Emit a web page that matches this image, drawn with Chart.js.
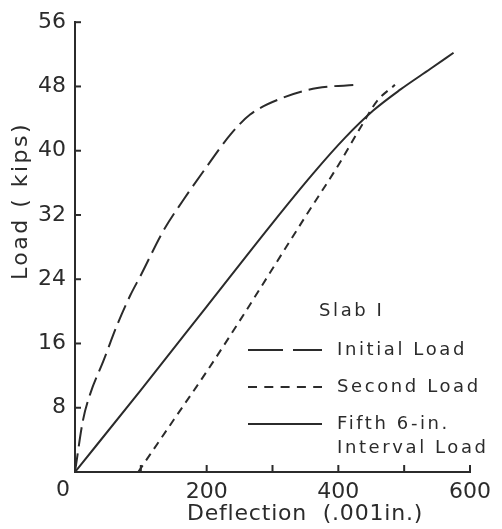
<!DOCTYPE html>
<html>
<head>
<meta charset="utf-8">
<script src="https://cdn.jsdelivr.net/npm/chart.js@4.4.0/dist/chart.umd.min.js"></script>
<style>
  html, body { margin: 0; padding: 0; background: #fff; }
  #wrap { width: 502px; height: 529px; position: relative; }
</style>
</head>
<body>
<div id="wrap"><canvas id="load-chart"></canvas></div>
<script>
// deflection (.001 in.) and load (kips)
const initialX = [0, 12, 23, 43, 64, 84, 100, 134, 164, 200, 236, 266, 316, 368, 428];
const initialY = [0, 6.4, 9.7, 13.8, 18.3, 22, 24.5, 30, 33.8, 38, 42, 44.5, 46.6, 47.8, 48.2];

const secondX = [96, 150, 200, 250, 300, 350, 400, 433, 459, 486];
const secondY = [0, 6.5, 12.5, 18.8, 25.3, 31.8, 38.2, 42.8, 46.2, 48.2];

const fifthX = [0, 100, 200, 300, 360, 410, 453, 494, 540, 575];
const fifthY = [0, 10.2, 20.6, 31.0, 37.0, 41.6, 45.0, 47.6, 50.2, 52.2];

const xTicks = [0, 100, 200, 300, 400, 500, 600];
const xTickLabels = [0, 200, 400, 600];
const yTicks = [0, 8, 16, 24, 32, 40, 48, 56];
const yTickLabels = [8, 16, 24, 32, 40, 48, 56];

const ink = '#2b2b2b';
const font = 'DejaVu Sans';

const toPoints = (xs, ys) => xs.map((x, i) => ({ x: x, y: ys[i] }));

// tick marks point into the plot, titles and the legend are drawn by hand
const extras = {
  id: 'extras',
  afterDraw(chart) {
    const ctx = chart.ctx;
    const xs = chart.scales.x;
    const ys = chart.scales.y;
    const area = chart.chartArea;
    ctx.save();
    ctx.strokeStyle = ink;
    ctx.lineWidth = 2;
    xTicks.forEach((v) => {
      if (v === 0) return;
      const px = xs.getPixelForValue(v);
      ctx.beginPath();
      ctx.moveTo(px, area.bottom);
      ctx.lineTo(px, area.bottom - 7);
      ctx.stroke();
    });
    yTicks.forEach((v) => {
      if (v === 0) return;
      const py = ys.getPixelForValue(v);
      ctx.beginPath();
      ctx.moveTo(area.left, py);
      ctx.lineTo(area.left + 6, py);
      ctx.stroke();
    });

    ctx.fillStyle = ink;
    ctx.font = '22px "' + font + '"';
    ctx.textBaseline = 'middle';
    ctx.textAlign = 'center';
    // the origin label sits left of the corner in the original
    ctx.fillText('0', xs.getPixelForValue(0) - 12, area.bottom + 18);

    ctx.letterSpacing = '0.8px';
    ctx.textAlign = 'left';
    ctx.fillText('Deflection  (.001in.)', 187, 514);

    ctx.save();
    ctx.translate(21, 201);
    ctx.rotate(-Math.PI / 2);
    ctx.textAlign = 'center';
    ctx.letterSpacing = '2.5px';
    ctx.fillText('Load ( kips)', 0, 0);
    ctx.restore();

    // legend
    ctx.font = '18px "' + font + '"';
    ctx.letterSpacing = '2.6px';
    ctx.fillText('Slab I', 319, 311);
    const rows = [350, 387, 424];
    chart.data.datasets.forEach((ds, i) => {
      ctx.setLineDash(ds.legendDash);
      ctx.lineWidth = 2;
      ctx.beginPath();
      ctx.moveTo(248, rows[i]);
      ctx.lineTo(322, rows[i]);
      ctx.stroke();
      ctx.setLineDash([]);
      const lines = [].concat(ds.label2 || ds.label);
      lines.forEach((t, j) => ctx.fillText(t, 337, rows[i] + j * 24));
    });
    ctx.restore();
  }
};

new Chart(document.getElementById('load-chart'), {
  type: 'line',
  data: {
    datasets: [
      {
        label: 'Initial Load',
        data: toPoints(initialX, initialY),
        borderColor: ink,
        borderWidth: 2,
        borderDash: [19, 7],
        legendDash: [35, 10, 40],
        pointRadius: 0,
        cubicInterpolationMode: 'monotone',
        fill: false,
      },
      {
        label: 'Second Load',
        data: toPoints(secondX, secondY),
        borderColor: ink,
        borderWidth: 2,
        borderDash: [8, 6],
        legendDash: [9, 7.3],
        pointRadius: 0,
        cubicInterpolationMode: 'monotone',
        fill: false,
      },
      {
        label: 'Fifth 6-in. Interval Load',
        label2: ['Fifth 6-in.', 'Interval Load'],
        data: toPoints(fifthX, fifthY),
        borderColor: ink,
        borderWidth: 2,
        legendDash: [],
        pointRadius: 0,
        cubicInterpolationMode: 'monotone',
        fill: false,
      },
    ],
  },
  options: {
    responsive: true,
    maintainAspectRatio: false,
    animation: false,
    layout: { padding: { left: 15, right: 32, top: 15, bottom: 0 } },
    plugins: {
      legend: { display: false },
      tooltip: { enabled: false },
    },
    scales: {
      x: {
        type: 'linear',
        min: 0,
        max: 600,
        afterBuildTicks: (s) => { s.ticks = xTicks.map((v) => ({ value: v })); },
        afterFit: (s) => { s.height = 57; },
        grid: { display: false, drawTicks: false },
        border: { display: true, color: ink, width: 2 },
        ticks: {
          color: ink,
          padding: 7,
          maxRotation: 0,
          font: { family: font, size: 22 },
          callback: (v) => (v !== 0 && xTickLabels.includes(v) ? String(v) : ''),
        },
      },
      y: {
        type: 'linear',
        min: 0,
        max: 56,
        afterBuildTicks: (s) => { s.ticks = yTicks.map((v) => ({ value: v })); },
        afterFit: (s) => { s.width = 60; },
        grid: { display: false, drawTicks: false },
        border: { display: true, color: ink, width: 2 },
        ticks: {
          color: ink,
          padding: 9,
          font: { family: font, size: 22 },
          callback: (v) => (yTickLabels.includes(v) ? String(v) : ''),
        },
      },
    },
  },
  plugins: [extras],
});
</script>
</body>
</html>
